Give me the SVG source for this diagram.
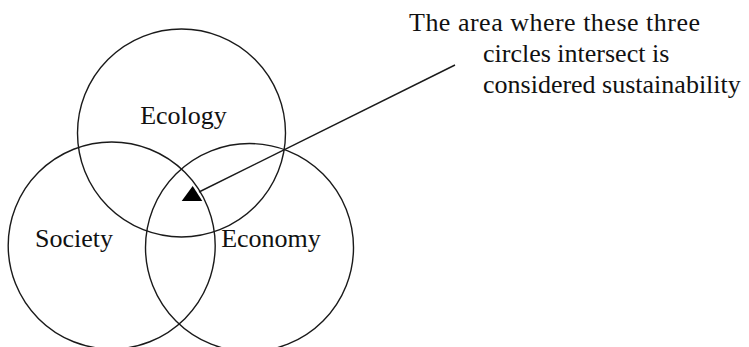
<svg xmlns="http://www.w3.org/2000/svg" width="749" height="347" viewBox="0 0 749 347">
  <style>
    .ring { fill: none; stroke: #1a1a1a; stroke-width: 1.4; }
    .label { font-family: "Liberation Serif", "Times New Roman", serif; font-size: 26px; fill: #111; }
    .link { stroke: #1a1a1a; stroke-width: 1.4; fill: none; }
  </style>
  <rect width="749" height="347" fill="#ffffff"/>

  <g id="ecology">
    <circle class="ring" cx="181.5" cy="133" r="104"/>
    <text class="label" x="183.5" y="123.5" text-anchor="middle">Ecology</text>
  </g>

  <g id="society">
    <circle class="ring" cx="111.7" cy="245.5" r="103.5"/>
    <text class="label" x="74" y="247" text-anchor="middle">Society</text>
  </g>

  <g id="economy">
    <circle class="ring" cx="249.5" cy="247.5" r="104"/>
    <text class="label" x="271" y="247" text-anchor="middle">Economy</text>
  </g>

  <g id="note">
    <text class="label" x="409" y="31" textLength="291" lengthAdjust="spacing">The area where these three</text>
    <text class="label" x="483" y="62">circles intersect is</text>
    <text class="label" x="483" y="93">considered sustainability</text>
  </g>

  <g id="connectors">
    <line class="link" x1="455" y1="65" x2="199" y2="192"/>
    <polygon points="181.7,201 192.7,186 202.3,201" fill="#000"/>
  </g>
</svg>
